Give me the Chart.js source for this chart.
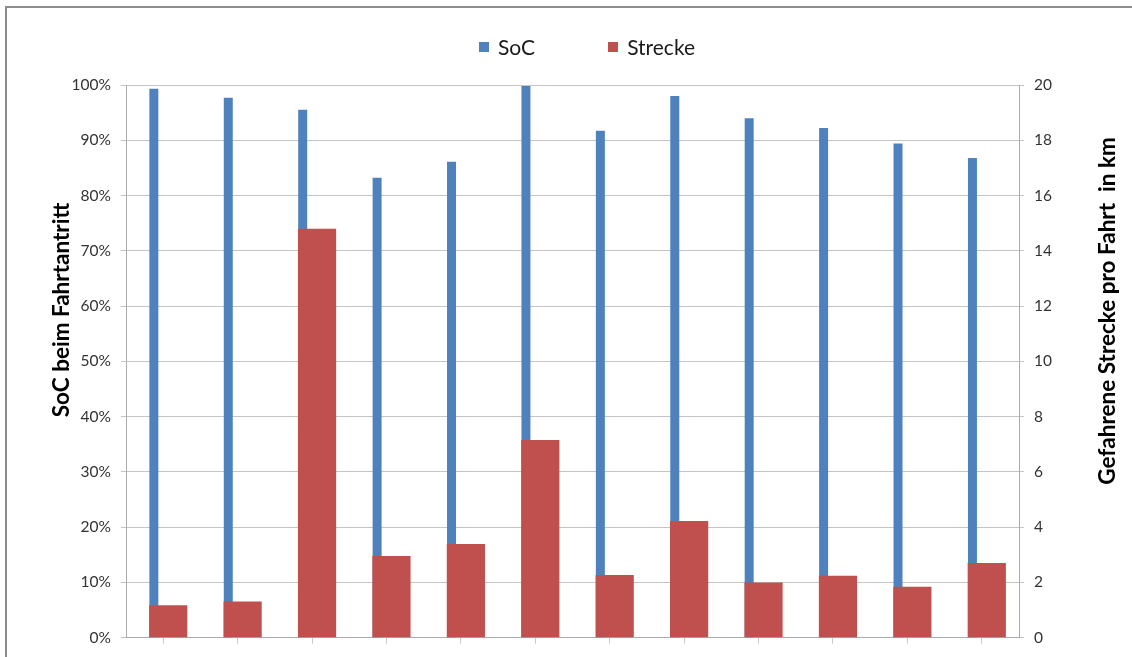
<!DOCTYPE html>
<html>
<head>
<meta charset="utf-8">
<script src="https://cdn.jsdelivr.net/npm/chart.js@4.4.1/dist/chart.umd.min.js"></script>
<style>
  html, body { margin: 0; padding: 0; background: #fff; }
  #wrap { position: relative; width: 1132px; height: 657px; overflow: hidden; background: #fff; }
  #frame { position: absolute; left: 5px; top: 6px; width: 1200px; height: 800px;
           border-left: 2px solid #8c8c8c; border-top: 2px solid #8c8c8c; }
  #chart { position: absolute; left: 0; top: 0; }
  #legend { position: absolute; left: 479px; top: 36px; display: flex; align-items: center;
            font-family: Lato, "Open Sans", sans-serif; font-size: 21px; line-height: 22px; color: #1a1a1a; }
  #legend .item { display: flex; align-items: center; }
  #legend .item + .item { margin-left: 73px; }
  #legend .box { width: 10px; height: 10px; margin-right: 9px; }
</style>
</head>
<body>
<div id="wrap">
  <div id="frame"></div>
  <canvas id="chart" width="1132" height="657"></canvas>
  <div id="legend"></div>
</div>
<script>
// Trips (one bar pair per trip)
const categories = ['1', '2', '3', '4', '5', '6', '7', '8', '9', '10', '11', '12'];
// State of charge at the start of each trip, in %
const socValues = [99.3, 97.7, 95.5, 83.2, 86.1, 99.8, 91.7, 98.0, 94.0, 92.2, 89.4, 86.8];
// Distance driven per trip, in km
const streckeValues = [1.17, 1.31, 14.8, 2.96, 3.39, 7.15, 2.27, 4.22, 2.0, 2.24, 1.84, 2.70];
// Axis tick settings
const socTicks = { min: 0, max: 100, step: 10 };
const kmTicks = { min: 0, max: 20, step: 2 };

const seriesNames = ['SoC', 'Strecke'];
const seriesColors = ['#4f81bd', '#c0504d'];
const leftTitle = 'SoC beim Fahrtantritt';
const rightTitle = 'Gefahrene Strecke pro Fahrt  in km';

const FONT = 'Lato, "Open Sans", sans-serif';
Chart.defaults.font.family = FONT;
Chart.defaults.color = '#333333';

// Draw the SoC bars first so the distance bars sit on top of them
const drawOrder = {
  id: 'drawOrder',
  beforeDatasetsDraw(chart) {
    const ctx = chart.ctx;
    const a = chart.chartArea;
    ctx.save();
    ctx.beginPath();
    ctx.rect(a.left, a.top, a.right - a.left, a.bottom - a.top);
    ctx.clip();
    [0, 1].forEach(i => {
      const meta = chart.getDatasetMeta(i);
      if (meta.visible) meta.controller.draw();
    });
    ctx.restore();
    return false;
  }
};

// Vertical axis titles, both reading bottom-to-top
const axisTitles = {
  id: 'axisTitles',
  afterDraw(chart) {
    const ctx = chart.ctx;
    ctx.save();
    ctx.fillStyle = '#000';
    ctx.font = 'bold 22.5px ' + FONT;
    ctx.textAlign = 'center';
    ctx.textBaseline = 'middle';
    [[leftTitle, 62, 310], [rightTitle, 1108, 311]].forEach(([t, x, y]) => {
      ctx.save();
      ctx.translate(x, y);
      ctx.rotate(-Math.PI / 2);
      ctx.fillText(t, 0, 0);
      ctx.restore();
    });
    ctx.restore();
  }
};

const gridColor = '#c4c4c4';
const axisColor = '#ababab';

const chart = new Chart(document.getElementById('chart'), {
  type: 'bar',
  data: {
    labels: categories,
    datasets: [
      {
        label: seriesNames[0],
        data: socValues,
        yAxisID: 'y',
        backgroundColor: seriesColors[0],
        categoryPercentage: 0.5026,
        barPercentage: 0.481
      },
      {
        label: seriesNames[1],
        data: streckeValues,
        yAxisID: 'y1',
        backgroundColor: seriesColors[1],
        categoryPercentage: 0.2687,
        barPercentage: 3.82
      }
    ]
  },
  options: {
    responsive: false,
    animation: false,
    layout: { padding: { top: 85, left: 0, right: 0, bottom: 0 } },
    plugins: {
      legend: { display: false },
      tooltip: { enabled: false }
    },
    scales: {
      x: {
        ticks: { display: false },
        grid: { drawOnChartArea: false, offset: false, tickLength: 6, color: '#c8c8c8' },
        border: { display: true, color: axisColor },
        afterFit(s) { s.height = 18; }
      },
      y: {
        position: 'left',
        min: socTicks.min,
        max: socTicks.max,
        ticks: {
          stepSize: socTicks.step,
          padding: 10,
          font: { size: 15.5 },
          callback: v => v + '%'
        },
        grid: { color: gridColor, tickLength: 5 },
        border: { display: true, color: axisColor },
        afterFit(s) { s.width = 126; }
      },
      y1: {
        position: 'right',
        min: kmTicks.min,
        max: kmTicks.max,
        ticks: { stepSize: kmTicks.step, padding: 10, font: { size: 15.5 } },
        grid: { drawOnChartArea: false, color: gridColor, tickLength: 5 },
        border: { display: true, color: axisColor },
        afterFit(s) { s.width = 113; }
      }
    }
  },
  plugins: [drawOrder, axisTitles]
});

// Legend built from the chart's datasets
const legendEl = document.getElementById('legend');
chart.data.datasets.forEach(ds => {
  const item = document.createElement('div');
  item.className = 'item';
  const box = document.createElement('span');
  box.className = 'box';
  box.style.background = ds.backgroundColor;
  const label = document.createElement('span');
  label.textContent = ds.label;
  item.appendChild(box);
  item.appendChild(label);
  legendEl.appendChild(item);
});
</script>
</body>
</html>
